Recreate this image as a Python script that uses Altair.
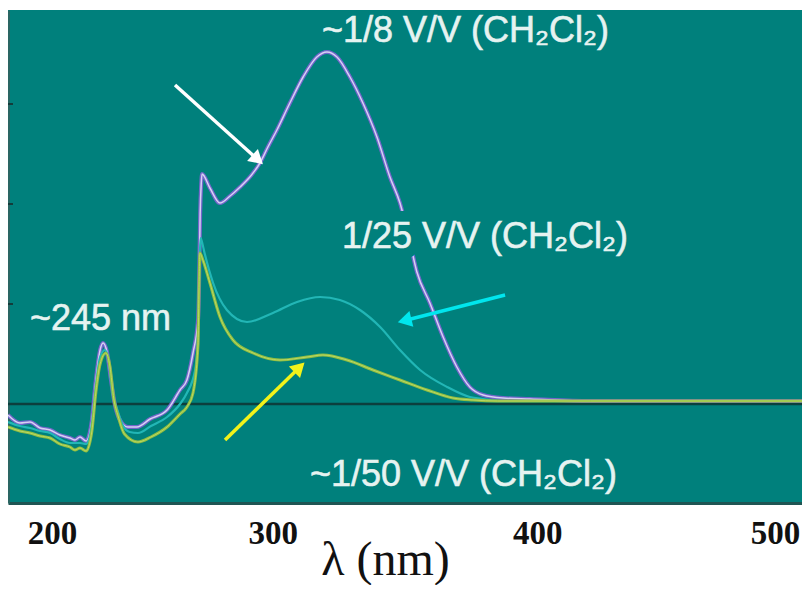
import altair as alt
import pandas as pd

# ---- spectra (wavelength nm, absorbance in tick units) ----
wl_18 = [200.0, 204.5, 208.3, 212.1, 215.9, 219.6, 223.4, 225.3, 227.2, 229.5, 231.7, 233.2, 234.8, 235.9, 237.4,
         238.9, 240.4, 242.3, 245.3, 248.7, 253.7, 260.1, 265.0, 267.6, 269.9, 271.8, 272.2, 272.6, 273.0, 273.3,
         276.3, 280.1, 283.9, 287.7, 292.0, 295.2, 298.2, 301.6, 306.5, 311.5, 316.7, 320.5, 324.3, 329.2, 334.1,
         339.4, 344.3, 348.1, 351.5, 354.5, 359.4, 364.4, 369.6, 374.5, 379.5, 387.0, 397.2, 420.0, 450.0, 500.0]
abs_18 = [-0.11, -0.19, -0.18, -0.24, -0.26, -0.31, -0.34, -0.36, -0.33, -0.37, -0.16, 0.24, 0.54, 0.61, 0.52,
          0.24, -0.01, -0.16, -0.23, -0.23, -0.15, -0.06, 0.14, 0.24, 0.51, 0.84, 1.20, 1.90, 2.20, 2.30,
          2.16, 2.01, 2.08, 2.17, 2.29, 2.41, 2.57, 2.74, 3.01, 3.27, 3.47, 3.52, 3.47, 3.27, 3.01,
          2.67, 2.27, 2.01, 1.66, 1.32, 1.01, 0.67, 0.37, 0.17, 0.09, 0.06, 0.05, 0.03, 0.03, 0.03]

wl_125 = [200.0, 204.5, 208.3, 212.1, 215.9, 219.6, 223.4, 227.2, 229.5, 231.7, 233.2, 234.8, 236.6, 238.0, 239.5,
          241.2, 243.5, 246.0, 249.1, 254.0, 260.1, 265.0, 267.6, 270.7, 271.8, 272.2, 272.8, 273.3, 274.0, 277.5,
          282.7, 290.3, 300.1, 309.2, 317.9, 325.4, 333.0, 340.6, 348.1, 355.7, 365.9, 374.5, 379.5, 387.0, 420.0, 500.0]
abs_125 = [-0.18, -0.22, -0.24, -0.27, -0.29, -0.35, -0.39, -0.39, -0.40, -0.20, 0.18, 0.47, 0.54, 0.44, 0.10,
           -0.05, -0.22, -0.28, -0.29, -0.22, -0.13, 0.00, 0.11, 0.34, 0.70, 1.20, 1.66, 1.62, 1.54, 1.21,
           0.94, 0.82, 0.91, 1.02, 1.07, 1.04, 0.94, 0.77, 0.54, 0.34, 0.17, 0.07, 0.05, 0.03, 0.03, 0.03]

wl_150 = [200.0, 204.5, 208.3, 212.1, 215.9, 219.6, 223.4, 225.3, 227.2, 229.5, 231.7, 233.2, 234.8, 237.0, 238.5,
          240.0, 241.6, 244.0, 249.1, 254.0, 260.1, 265.0, 267.6, 269.9, 271.8, 272.2, 272.5, 273.5, 276.3, 280.1,
          285.0, 292.6, 302.8, 313.0, 319.0, 328.1, 337.9, 348.1, 358.3, 368.1, 375.7, 385.0, 420.0, 500.0]
abs_150 = [-0.23, -0.27, -0.29, -0.32, -0.34, -0.40, -0.43, -0.46, -0.44, -0.47, -0.27, 0.12, 0.40, 0.51, 0.38,
           0.05, -0.12, -0.30, -0.38, -0.33, -0.23, -0.10, -0.03, 0.11, 0.60, 1.20, 1.51, 1.45, 1.21, 0.87,
           0.64, 0.51, 0.44, 0.47, 0.49, 0.44, 0.34, 0.24, 0.14, 0.06, 0.04, 0.03, 0.03, 0.03]

# ---- annotations ----
label_text = ["~1/8 V/V (CH₂Cl₂)", "1/25 V/V (CH₂Cl₂)", "~245 nm", "~1/50 V/V (CH₂Cl₂)"]
label_wl = [318.6, 326.2, 208.3, 314.1]
label_abs = [3.62, 1.56, 0.74, -0.82]

arrow_color = ["#ffffff", "#00e6ee", "#f2f21a"]
arrow_tail_wl = [263.1, 387.8, 282.0]
arrow_tail_abs = [3.19, 1.09, -0.36]
arrow_head_wl = [293.7, 350.7, 309.5]
arrow_head_abs = [2.46, 0.84, 0.35]
arrow_angle = [132, 256, 46]

x_tick_values = [200, 300, 400, 500]
y_tick_values = [1, 2, 3]

BG = "#00807c"

s18 = pd.DataFrame({"wl": wl_18, "a": abs_18})
s125 = pd.DataFrame({"wl": wl_125, "a": abs_125})
s150 = pd.DataFrame({"wl": wl_150, "a": abs_150})
labels = pd.DataFrame({"text": label_text, "wl": label_wl, "a": label_abs})
arrows = pd.DataFrame({"color": arrow_color, "wl": arrow_tail_wl, "a": arrow_tail_abs,
                       "wl2": arrow_head_wl, "a2": arrow_head_abs, "angle": arrow_angle})
yticks = pd.DataFrame({"a": y_tick_values})
zero = pd.DataFrame({"a": [0]})

xscale = alt.Scale(domain=[200, 500], nice=False, zero=False)
yscale = alt.Scale(domain=[-0.99, 3.94], nice=False, zero=False)

x_axis = alt.Axis(values=x_tick_values, ticks=False, tickSize=0, grid=False,
                  domainColor="#1f5553", domainWidth=3,
                  labelFont="Liberation Serif", labelFontSize=33, labelFontWeight="bold",
                  labelColor="#111111", labelPadding=14, labelOverlap=False, labelFlush=False,
                  labelOffset={"condition": [{"test": "datum.value == 200", "value": 44},
                                             {"test": "datum.value == 500", "value": -27}],
                               "value": 0},
                  title="λ  (nm)", titleFont="Liberation Serif", titleFontSize=48,
                  titleFontWeight="normal", titleColor="#111111",
                  titleX=377, titleY=71, titleBaseline="alphabetic")
y_axis = alt.Axis(labels=False, ticks=False, grid=False, title=None,
                  domainColor="#2a6663", domainWidth=3)

X = alt.X("wl:Q", scale=xscale, axis=x_axis)
Y = alt.Y("a:Q", scale=yscale, axis=y_axis)
Xp = alt.X("wl:Q", scale=xscale)
Yp = alt.Y("a:Q", scale=yscale)

base_line = alt.Chart(zero).mark_rule(color="#0c3f3d", strokeWidth=2.5).encode(y=Y)
tick_marks = alt.Chart(yticks).mark_rule(color="#123c3a", strokeWidth=2).encode(
    y=Yp, x=alt.value(0), x2=alt.value(5))

purple_outer = alt.Chart(s18).mark_line(color="#7466cc", strokeWidth=4, interpolate="monotone", clip=True).encode(x=X, y=Y)
purple_inner = alt.Chart(s18).mark_line(color="#d6d2f2", strokeWidth=1.5, interpolate="monotone", clip=True).encode(x=Xp, y=Yp)
cyan_line = alt.Chart(s125).mark_line(color="#22b6b6", strokeWidth=2.2, interpolate="monotone", clip=True).encode(x=Xp, y=Yp)
yellow_outer = alt.Chart(s150).mark_line(color="#90be40", strokeWidth=3, interpolate="monotone", clip=True).encode(x=Xp, y=Yp)
yellow_inner = alt.Chart(s150).mark_line(color="#b9d866", strokeWidth=1.0, interpolate="monotone", clip=True).encode(x=Xp, y=Yp)

halo = alt.Chart(labels).transform_filter(alt.datum.text == "1/25 V/V (CH₂Cl₂)").mark_text(
    align="left", baseline="alphabetic", font="Liberation Sans", fontSize=36,
    fill=BG, stroke=BG, strokeWidth=22, strokeJoin="round").encode(x=Xp, y=Yp, text="text:N")

texts = alt.Chart(labels).mark_text(
    align="left", baseline="alphabetic", font="Liberation Sans", fontSize=36,
    fill="#e6f3f1", stroke="#e6f3f1", strokeWidth=0.6).encode(x=Xp, y=Yp, text="text:N")

arrow_shafts = alt.Chart(arrows).mark_rule(strokeWidth=3.5).encode(
    x=Xp, y=Yp, x2="wl2:Q", y2="a2:Q", color=alt.Color("color:N", scale=None))
arrow_heads = alt.Chart(arrows).mark_point(shape="triangle", filled=True, size=260, opacity=1).encode(
    x=alt.X("wl2:Q", scale=xscale), y=alt.Y("a2:Q", scale=yscale),
    angle=alt.Angle("angle:Q", scale=None), color=alt.Color("color:N", scale=None))

chart = alt.layer(
    base_line, tick_marks, purple_outer, purple_inner, cyan_line, yellow_outer, yellow_inner,
    halo, texts, arrow_shafts, arrow_heads
).properties(
    width=794, height=493,
    autosize=alt.AutoSizeParams(type="none"),
    padding={"left": 0, "top": 2, "right": 0, "bottom": 82},
    background="white",
).configure_view(fill=BG, stroke=None)

chart.save("out.html", embed_options={"renderer": "svg", "actions": False})
